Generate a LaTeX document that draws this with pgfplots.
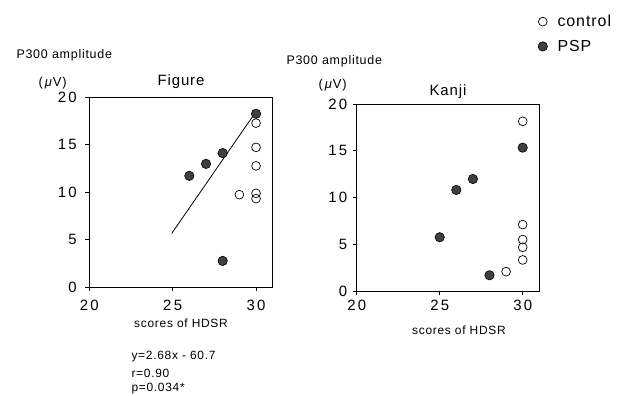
\documentclass[border=0pt]{standalone}
\usepackage{pgfplots}
\pgfplotsset{compat=1.18}
\usepackage{fontspec}
\setmainfont{Liberation Sans}
\newfontfamily\tickfont[LetterSpace=15]{Liberation Sans}
\newfontfamily\lsfont[LetterSpace=6]{Liberation Sans}
\begin{document}
\begin{tikzpicture}
\useasboundingbox (0,0) rectangle (625bp,396bp);
\pgfplotsset{
  myax/.style={
    scale only axis,
    anchor=south west,
    xmin=20, xmax=31, ymin=0, ymax=20,
    xtick={20,25,30}, ytick={0,5,10,15,20},
    xtick pos=left, ytick pos=left,
    tick align=outside,
    major tick length=4bp,
    /pgf/number format/assume math mode=true,
    tick label style={font=\tickfont\fontsize{15}{17}\selectfont},
    xlabel={scores of HDSR},
    title style={font=\lsfont\fontsize{15}{17}\selectfont},
    axis line style={line width=0.8pt},
    tick style={line width=0.8pt, black},
    clip=false,
  },
  ctrl/.style={only marks, mark=o, mark size=4.4bp, mark options={line width=0.7pt, black}},
  psp/.style={only marks, mark=*, mark size=4.7bp, mark options={line width=0.6pt, draw=black, fill=black!75}},
}
\begin{axis}[myax, at={(89.3bp,109bp)}, width=183.4bp, height=190bp, title={Figure},
  title style={yshift=-1bp},
  xticklabel style={yshift=-6bp},
  yticklabel style={xshift=-5bp},
  xlabel style={font=\lsfont\fontsize{12}{14}\selectfont, at={(axis description cs:0.5,-0.192)}, anchor=center}]
\addplot[ctrl] coordinates {(29,9.72) (30,17.25) (30,14.7) (30,12.75) (30,9.86) (30,9.3)};
\addplot[psp] coordinates {(26,11.7) (27,12.96) (28,14.1) (28,2.75) (30,18.24)};
\addplot[black, line width=0.8pt] coordinates {(24.94,5.63) (29.8,17.96)};
\end{axis}
\begin{axis}[myax, at={(356.7bp,104.7bp)}, width=182.6bp, height=187.3bp, title={Kanji},
  title style={yshift=-4bp},
  xticklabel style={yshift=-1bp},
  yticklabel style={xshift=-2bp},
  xlabel style={font=\lsfont\fontsize{12}{14}\selectfont, at={(axis description cs:0.56,-0.207)}, anchor=center},
  legend style={at={(0.976,1.497)}, anchor=north west, draw=none, fill=none,
    font=\lsfont\fontsize{16}{18}\selectfont, row sep=8bp, column sep=8bp},
  legend cell align=left]
\addplot[ctrl] coordinates {(29,2.1) (30,18.15) (30,7.12) (30,5.52) (30,4.70) (30,3.35)};
\addlegendentry{control}
\addplot[psp] coordinates {(25,5.77) (26,10.82) (27,11.99) (28,1.71) (30,15.34)};
\addlegendentry{PSP}
\end{axis}
\node[anchor=west, font=\lsfont\fontsize{12.5}{14}\selectfont] at (13bp,341bp) {P300 amplitude};
\node[anchor=west, font=\lsfont\fontsize{13}{15}\selectfont] at (35bp,313bp) {(\,\textit{μ}V)};
\node[anchor=west, font=\lsfont\fontsize{12.5}{14}\selectfont] at (283bp,335bp) {P300 amplitude};
\node[anchor=west, font=\lsfont\fontsize{13}{15}\selectfont] at (315bp,311bp) {(\,\textit{μ}V)};
\node[anchor=west, font=\lsfont\fontsize{12}{14}\selectfont] at (128bp,39bp) {y=2.68x - 60.7};
\node[anchor=west, font=\lsfont\fontsize{12}{14}\selectfont] at (128bp,23bp) {r=0.90};
\node[anchor=west, font=\lsfont\fontsize{12}{14}\selectfont] at (128bp,7bp) {p=0.034*};
\end{tikzpicture}
\end{document}
